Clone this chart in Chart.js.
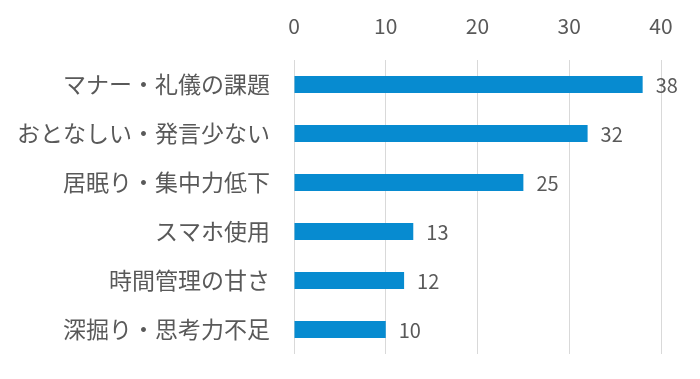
<!DOCTYPE html>
<html>
<head>
<meta charset="utf-8">
<script src="https://cdn.jsdelivr.net/npm/chart.js@4/dist/chart.umd.min.js"></script>
<style>
  html, body { margin: 0; padding: 0; background: #ffffff; }
  #wrap { width: 700px; height: 379px; position: relative; }
</style>
</head>
<body>
<div id="wrap"><canvas id="c" width="700" height="379"></canvas></div>
<script>
const categories = ["マナー・礼儀の課題", "おとなしい・発言少ない", "居眠り・集中力低下", "スマホ使用", "時間管理の甘さ", "深掘り・思考力不足"];
const counts = [38, 32, 25, 13, 12, 10];
const axisMin = 0;
const axisMax = 40;
const axisStep = 10;

const textColor = '#595959';
const cjkFont = '"Noto Sans CJK JP", "Noto Sans", sans-serif';

const valueLabels = {
  id: 'valueLabels',
  afterDatasetsDraw(chart) {
    const ctx = chart.ctx;
    const meta = chart.getDatasetMeta(0);
    ctx.save();
    ctx.font = '20px ' + cjkFont;
    ctx.fillStyle = textColor;
    ctx.textAlign = 'left';
    ctx.textBaseline = 'middle';
    meta.data.forEach((bar, i) => {
      ctx.fillText(String(chart.data.datasets[0].data[i]), bar.x + 13, bar.y + 1);
    });
    ctx.restore();
  }
};

new Chart(document.getElementById('c'), {
  type: 'bar',
  data: {
    labels: categories,
    datasets: [{
      data: counts,
      backgroundColor: '#078bd0',
      borderWidth: 0,
      categoryPercentage: 1,
      barPercentage: 0.35
    }]
  },
  options: {
    indexAxis: 'y',
    responsive: false,
    animation: false,
    devicePixelRatio: 1,
    layout: { padding: { left: 0, right: 39, top: 0, bottom: 25 } },
    plugins: { legend: { display: false }, tooltip: { enabled: false } },
    scales: {
      x: {
        position: 'top',
        min: axisMin,
        max: axisMax,
        ticks: { stepSize: axisStep, color: textColor, font: { size: 21, family: cjkFont }, padding: 21 },
        grid: { color: '#d9d9d9', lineWidth: 1, drawTicks: false },
        border: { display: false },
        afterFit(scale) { scale.height = 60; scale.paddingLeft = 0; scale.paddingRight = 0; }
      },
      y: {
        ticks: { color: textColor, font: { size: 23, family: cjkFont }, padding: 24 },
        grid: { display: false, drawTicks: false },
        border: { display: false },
        afterFit(scale) { scale.width = 294; scale.paddingTop = 0; scale.paddingBottom = 0; }
      }
    }
  },
  plugins: [valueLabels]
});
</script>
</body>
</html>
